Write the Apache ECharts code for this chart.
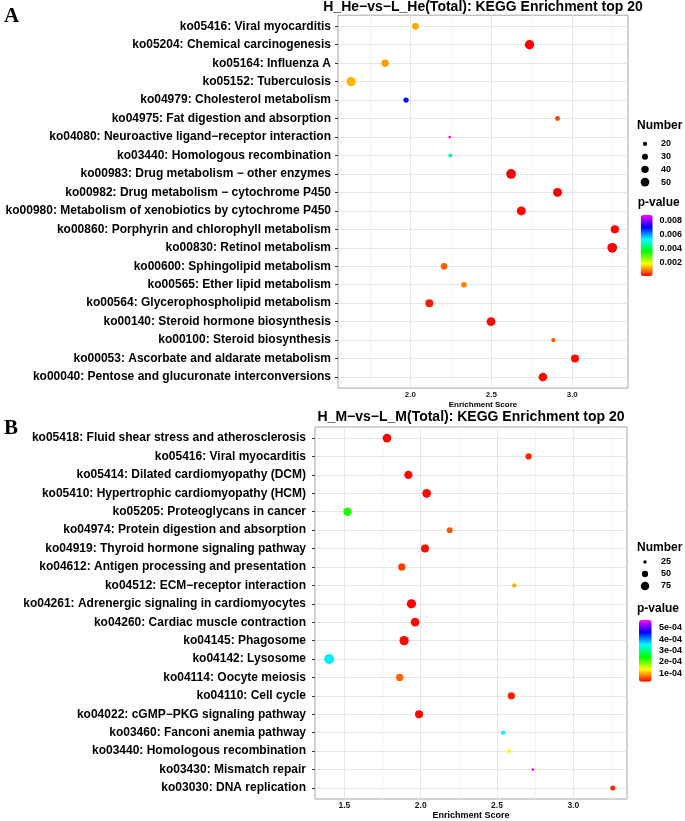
<!DOCTYPE html>
<html><head><meta charset="utf-8">
<script src="https://cdn.jsdelivr.net/npm/echarts@6/dist/echarts.min.js"></script>
<style>html,body{margin:0;padding:0;background:#fff}#c{width:685px;height:821px}</style>
</head><body><div id="c"></div>
<script>
// ---------- Panel A data ----------
const pathwaysA = [
  "ko05416: Viral myocarditis",
  "ko05204: Chemical carcinogenesis",
  "ko05164: Influenza A",
  "ko05152: Tuberculosis",
  "ko04979: Cholesterol metabolism",
  "ko04975: Fat digestion and absorption",
  "ko04080: Neuroactive ligand\u2212receptor interaction",
  "ko03440: Homologous recombination",
  "ko00983: Drug metabolism \u2212 other enzymes",
  "ko00982: Drug metabolism \u2212 cytochrome P450",
  "ko00980: Metabolism of xenobiotics by cytochrome P450",
  "ko00860: Porphyrin and chlorophyll metabolism",
  "ko00830: Retinol metabolism",
  "ko00600: Sphingolipid metabolism",
  "ko00565: Ether lipid metabolism",
  "ko00564: Glycerophospholipid metabolism",
  "ko00140: Steroid hormone biosynthesis",
  "ko00100: Steroid biosynthesis",
  "ko00053: Ascorbate and aldarate metabolism",
  "ko00040: Pentose and glucuronate interconversions"
];
const scoreA  = [2.031, 2.736, 1.844, 1.634, 1.973, 2.909, 2.243, 2.247, 2.622, 2.909, 2.685, 3.263, 3.247, 2.208, 2.331, 2.117, 2.498, 2.883, 3.017, 2.819];
const numberA = [35, 55, 39, 55, 26, 24, 13, 20, 58, 52, 52, 46, 58, 35, 28, 44, 50, 20, 44, 50];
const pvalueA = [0.0012, 0.00005, 0.0011, 0.0013, 0.0069, 0.0005, 0.0088, 0.0046, 0.00005, 0.00006, 0.00008, 0.00008, 0.00004, 0.0007, 0.0009, 0.0002, 0.0001, 0.0006, 0.0001, 0.0001];
const xTicksA = [2.0, 2.5, 3.0];
const xGridA = [1.75, 2.0, 2.25, 2.5, 2.75, 3.0, 3.25];
const sizeLegendA = [20, 30, 40, 50];
const pTicksA = [0.002, 0.004, 0.006, 0.008];

// ---------- Panel B data ----------
const pathwaysB = [
  "ko05418: Fluid shear stress and atherosclerosis",
  "ko05416: Viral myocarditis",
  "ko05414: Dilated cardiomyopathy (DCM)",
  "ko05410: Hypertrophic cardiomyopathy (HCM)",
  "ko05205: Proteoglycans in cancer",
  "ko04974: Protein digestion and absorption",
  "ko04919: Thyroid hormone signaling pathway",
  "ko04612: Antigen processing and presentation",
  "ko04512: ECM\u2212receptor interaction",
  "ko04261: Adrenergic signaling in cardiomyocytes",
  "ko04260: Cardiac muscle contraction",
  "ko04145: Phagosome",
  "ko04142: Lysosome",
  "ko04114: Oocyte meiosis",
  "ko04110: Cell cycle",
  "ko04022: cGMP\u2212PKG signaling pathway",
  "ko03460: Fanconi anemia pathway",
  "ko03440: Homologous recombination",
  "ko03430: Mismatch repair",
  "ko03030: DNA replication"
];
const scoreB  = [1.779, 2.707, 1.919, 2.039, 1.520, 2.190, 2.028, 1.876, 2.613, 1.939, 1.963, 1.891, 1.400, 1.862, 2.594, 1.989, 2.539, 2.578, 2.735, 3.259];
const numberB = [78, 50, 72, 78, 75, 44, 69, 61, 32, 85, 78, 85, 95, 61, 61, 69, 32, 32, 20, 38];
const pvalueB = [3e-5, 4e-5, 3e-5, 3e-5, 2.3e-4, 6e-5, 3e-5, 5.3e-5, 1.0e-4, 2.6e-5, 3e-5, 3e-5, 3.6e-4, 7e-5, 4e-5, 3e-5, 3.5e-4, 1.35e-4, 5.7e-4, 4e-5];
const xTicksB = [1.5, 2.0, 2.5, 3.0];
const xGridB = [1.5, 1.75, 2.0, 2.25, 2.5, 2.75, 3.0, 3.25];
const sizeLegendB = [25, 50, 75];
const pTicksB = [1e-4, 2e-4, 3e-4, 4e-4, 5e-4];

const titleA = "H_He\u2212vs\u2212L_He(Total): KEGG Enrichment top 20";
const titleB = "H_M\u2212vs\u2212L_M(Total): KEGG Enrichment top 20";

// ---------- styling / layout ----------
const FONT = '"Liberation Sans", Arial, sans-serif';
const rainbow = ['#FF0000', '#FFFF00', '#00FF00', '#00FFFF', '#0000FF', '#FF00FF'];
function expFmt(v) {
  const parts = v.toExponential(0).split('e');
  const e = parseInt(parts[1], 10);
  return parts[0] + 'e' + (e < 0 ? '-' : '+') + String(Math.abs(e)).padStart(2, '0');
}
function padRange(arr, f) {
  const lo = Math.min(...arr), hi = Math.max(...arr), d = (hi - lo) * f;
  return [lo - d, hi + d];
}

const panels = [
  { names: pathwaysA, score: scoreA, num: numberA, p: pvalueA, xTicks: xTicksA, xGrid: xGridA,
    sizeTicks: sizeLegendA, pTicks: pTicksA, pFmt: v => v.toFixed(3), sizeK: 1.746, sizeB: -3.6,
    frame: { left: 338, top: 15.2, width: 290, height: 372.9 }, yLabelMargin: 7,
    xLabelSize: 8, xLabelMargin: 3, nameSize: 8, nameGap: 13,
    sizeLeg: { left: 640, top: 137.6, width: 10, height: 50.8, margin: 11 },
    bar: { left: 640.7, top: 215, width: 12, height: 61, margin: 9.3 } },
  { names: pathwaysB, score: scoreB, num: numberB, p: pvalueB, xTicks: xTicksB, xGrid: xGridB,
    sizeTicks: sizeLegendB, pTicks: pTicksB, pFmt: expFmt, sizeK: 1.383, sizeB: -3.48,
    frame: { left: 315, top: 427, width: 312, height: 372.8 }, yLabelMargin: 9,
    xLabelSize: 8.5, xLabelMargin: 2, nameSize: 9, nameGap: 12,
    sizeLeg: { left: 640, top: 556, width: 10, height: 36, margin: 11 },
    bar: { left: 639, top: 620, width: 12.7, height: 61.7, margin: 7.3 } }
];

const grid = [], xAxis = [], yAxis = [], series = [], visualMap = [];
panels.forEach((P, k) => {
  const g0 = grid.length;
  const n = P.names.length;
  const xr = padRange(P.score, 0.05);
  const sizeFn = N => P.sizeK * Math.sqrt(N) + P.sizeB;
  const idx = P.names.map((_, i) => i);
  // main panel
  grid.push({ left: P.frame.left, top: P.frame.top, width: P.frame.width, height: P.frame.height,
    show: true, backgroundColor: '#fff', borderColor: '#a6a6a6', borderWidth: 1, containLabel: false });
  xAxis.push({ gridIndex: g0, type: 'value', min: xr[0], max: xr[1],
    axisLine: { show: false }, splitLine: { show: false },
    axisTick: { show: true, customValues: P.xTicks, length: 3, lineStyle: { color: '#333' } },
    axisLabel: { customValues: P.xTicks, formatter: v => v.toFixed(1), fontFamily: FONT, fontWeight: 'bold',
      fontSize: P.xLabelSize, color: '#1a1a1a', margin: P.xLabelMargin },
    name: 'Enrichment Score', nameLocation: 'middle', nameGap: P.nameGap,
    nameTextStyle: { fontFamily: FONT, fontWeight: 'bold', fontSize: P.nameSize, color: '#000' } });
  yAxis.push({ gridIndex: g0, type: 'value', min: -0.6, max: n - 1 + 0.6, inverse: true,
    axisLine: { show: false }, splitLine: { show: false },
    axisTick: { show: true, customValues: idx, length: 3, lineStyle: { color: '#333' } },
    axisLabel: { customValues: idx, formatter: v => P.names[Math.round(v)], fontFamily: FONT,
      fontWeight: 'bold', fontSize: 12, color: '#000', margin: P.yLabelMargin } });
  // size legend
  grid.push({ left: P.sizeLeg.left, top: P.sizeLeg.top, width: P.sizeLeg.width, height: P.sizeLeg.height });
  xAxis.push({ gridIndex: g0 + 1, type: 'value', min: -1, max: 1, show: false });
  yAxis.push({ gridIndex: g0 + 1, type: 'category', data: P.sizeTicks.map(String), inverse: true, position: 'right',
    axisLine: { show: false }, axisTick: { show: false }, splitLine: { show: false },
    axisLabel: { fontFamily: FONT, fontWeight: 'bold', fontSize: 9, color: '#000', margin: P.sizeLeg.margin } });
  // colour bar axis
  const pr = [Math.min(...P.p), Math.max(...P.p)];
  grid.push({ left: P.bar.left, top: P.bar.top, width: P.bar.width, height: P.bar.height });
  xAxis.push({ gridIndex: g0 + 2, type: 'value', min: 0, max: 1, show: false });
  yAxis.push({ gridIndex: g0 + 2, type: 'value', min: pr[0], max: pr[1], position: 'right',
    axisLine: { show: false }, axisTick: { show: false }, splitLine: { show: false },
    axisLabel: { customValues: P.pTicks, formatter: P.pFmt, fontFamily: FONT, fontWeight: 'bold',
      fontSize: 9, color: '#000', margin: P.bar.margin } });

  // gridlines via markLine (drawn beneath the points)
  const mlData = [];
  P.xGrid.forEach(v => {
    const major = P.xTicks.some(t => Math.abs(t - v) < 1e-9);
    mlData.push({ xAxis: v, lineStyle: { color: major ? '#e6e6e6' : '#f3f3f3', width: 1, type: 'solid' } });
  });
  idx.forEach(i => mlData.push({ yAxis: i, lineStyle: { color: '#e6e6e6', width: 1, type: 'solid' } }));
  series.push({ type: 'scatter', xAxisIndex: g0, yAxisIndex: g0, data: [], z: 1, silent: true,
    markLine: { silent: true, z: 1, zlevel: 0, symbol: 'none', label: { show: false }, animation: false,
      emphasis: { disabled: true }, data: mlData } });
  // main scatter
  const sIdx = series.length;
  series.push({ type: 'scatter', xAxisIndex: g0, yAxisIndex: g0, z: 10,
    data: P.names.map((_, i) => [P.score[i], i, P.num[i], P.p[i]]),
    symbolSize: v => sizeFn(v[2]), itemStyle: { opacity: 1 } });
  // size legend scatter
  series.push({ type: 'scatter', xAxisIndex: g0 + 1, yAxisIndex: g0 + 1, z: 10,
    data: P.sizeTicks.map((N, i) => [0, i, N]),
    symbolSize: v => sizeFn(v[2]), itemStyle: { color: '#000', opacity: 1 } });

  visualMap.push({ type: 'continuous', seriesIndex: sIdx, dimension: 3, min: pr[0], max: pr[1],
    inRange: { color: rainbow }, left: P.bar.left, top: P.bar.top, itemWidth: P.bar.width,
    itemHeight: P.bar.height, padding: 0, calculable: false, hoverLink: false, show: true });
});

function txt(s, x, y, font, align) {
  return { type: 'text', x: x, y: y, silent: true,
    style: { text: s, font: font, fill: '#000', textAlign: align || 'left', textVerticalAlign: 'middle',
      align: align || 'left', verticalAlign: 'middle' } };
}
const graphic = [
  txt('A', 4, 16.5, 'bold 21px "Liberation Serif", "Times New Roman", serif'),
  txt('B', 4, 428.5, 'bold 21px "Liberation Serif", "Times New Roman", serif'),
  txt(titleA, 483, 7.5, 'bold 14px ' + FONT, 'center'),
  txt(titleB, 471, 417, 'bold 14px ' + FONT, 'center'),
  txt('Number', 637, 126, 'bold 12px ' + FONT),
  txt('p-value', 637.7, 203, 'bold 12px ' + FONT),
  txt('Number', 637, 548, 'bold 12px ' + FONT),
  txt('p-value', 637, 609, 'bold 12px ' + FONT)
];

const chart = echarts.init(document.getElementById('c'));
chart.setOption({ animation: false, backgroundColor: '#fff', grid, xAxis, yAxis, series, visualMap, graphic });
</script></body></html>
